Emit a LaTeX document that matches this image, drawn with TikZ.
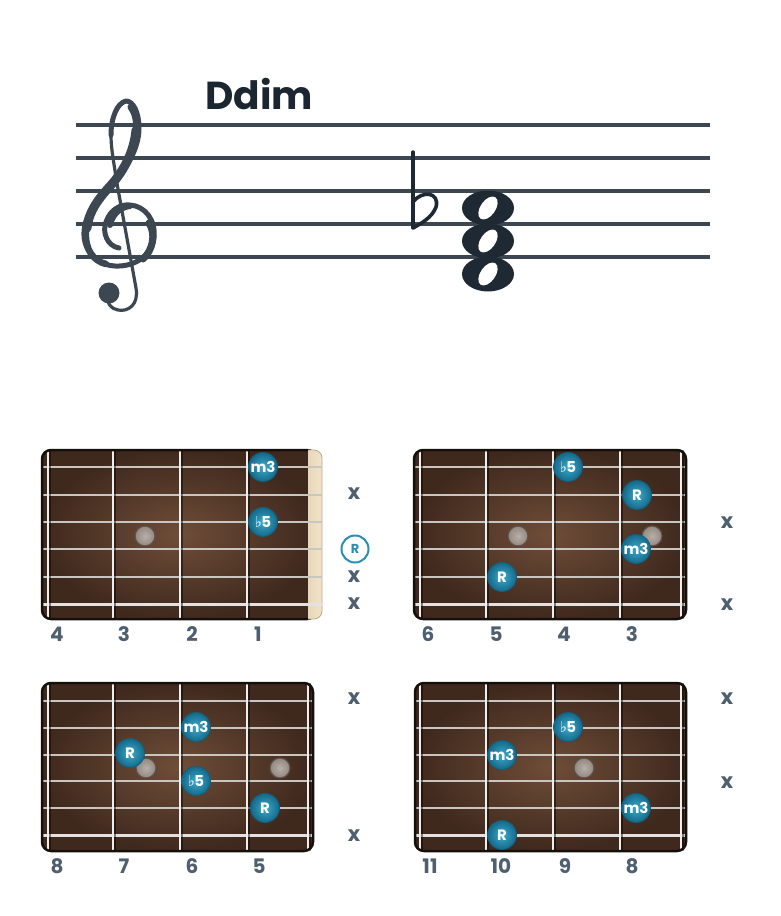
\documentclass[tikz,border=0pt]{standalone}
\usepackage{fontspec}
\newfontfamily\pop{Poppins}
\newfontfamily\dvs{DejaVu Sans}
\definecolor{staffc}{HTML}{3C4752}
\definecolor{notec}{HTML}{1E2934}
\definecolor{titlec}{HTML}{1B2631}
\definecolor{lblc}{HTML}{4E5F6F}
\definecolor{fbIn}{HTML}{6F4D38}
\definecolor{fbOut}{HTML}{3F291D}
\definecolor{fbBorder}{HTML}{15100C}
\definecolor{strc}{HTML}{C9C6C2}
\definecolor{fretc}{HTML}{EEEEEE}
\definecolor{nutA}{HTML}{F1E4CB}
\definecolor{nutB}{HTML}{DCC7A0}
\definecolor{blIn}{HTML}{3DAACB}
\definecolor{blOut}{HTML}{15698A}
\definecolor{blBd}{HTML}{125E7C}
\definecolor{gIn}{HTML}{B8AFA9}
\definecolor{gOut}{HTML}{938880}
\definecolor{gBd}{HTML}{5E5048}
\definecolor{tealc}{HTML}{2A8EB5}
\tikzset{
  board/.style={inner color=fbIn, outer color=fbOut},
  gstring/.style={draw=strc, line width=1.5pt},
  bstring/.style={draw=strc!50!white, line width=3pt},
  fretline/.style={draw=fretc, line width=2.6pt},
  fretshadow/.style={draw=black, opacity=0.45, line width=3.6pt},
  bdot/.style={circle, shade, inner color=blIn, outer color=blOut, draw=blBd, line width=0.8pt,
    minimum size=29pt, inner sep=0pt, text=white, font=\pop\bfseries\fontsize{15}{15}\selectfont},
  gdot/.style={circle, shade, inner color=gIn, outer color=gOut, draw=gBd, line width=1.2pt,
    minimum size=20pt, inner sep=0pt},
  fnum/.style={text=lblc, inner sep=0pt, font=\pop\bfseries\fontsize{20}{20}\selectfont},
  xmark/.style={text=lblc, inner sep=0pt, font=\pop\bfseries\fontsize{21}{21}\selectfont},
  rmark/.style={circle, draw=tealc, line width=2pt, minimum size=27pt, inner sep=0pt,
    text=tealc, font=\pop\bfseries\fontsize{13}{13}\selectfont},
  staffline/.style={draw=staffc, line width=3.6pt},
  clefline/.style={draw=staffc, line cap=round, line join=round},
}
\newcommand\fl{{\dvs\fontsize{15}{15}\selectfont ♭}\kern-0.5pt}
\newcommand\fboard[7]{%
  \shade[board, rounded corners=9pt] (#1,#3) rectangle (#2,#4);
  \foreach \sy in {#5} {\draw[gstring] (#1,\sy) -- (#2,\sy);}
  \draw[bstring] (#1,#6) -- (#2,#6);
  \foreach \fx in {#7} {\draw[fretshadow] (\fx+1.2,#3) -- (\fx+1.2,#4); \draw[fretline] (\fx,#3) -- (\fx,#4);}
  \draw[fbBorder, line width=2.5pt, rounded corners=9pt] (#1,#3) rectangle (#2,#4);
}
\begin{document}
\begin{tikzpicture}[x=1pt,y=-1pt]
\useasboundingbox (0,0) rectangle (780,916);
\fill[white] (0,0) rectangle (780,916);
% title
\node[anchor=base west, inner sep=0pt, text=titlec, font=\pop\bfseries\fontsize{39}{39}\selectfont] (title) at (205,109) {Ddim};
% staff
\foreach \ly in {125,158,191,224,257} {\draw[staffline] (76,\ly) -- (710,\ly);}
% treble clef
\draw[clefline, line width=5pt]
  (119,248) .. controls (107,246) and (102,232) .. (106,222)
  .. controls (110,210) and (120,204) .. (130,205)
  .. controls (145,206) and (156,220) .. (154,238)
  .. controls (152,256) and (134,267) .. (115,266)
  .. controls (96,265) and (83,250) .. (84,232)
  .. controls (85,212) and (100,197) .. (112,184)
  .. controls (125,170) and (139,150) .. (139,128)
  .. controls (139,112) and (133,101) .. (126,101)
  .. controls (117,103) and (111,118) .. (111,135);
\draw[clefline, line width=9pt]
  (87,228) .. controls (89,210) and (100,197) .. (112,184)
  .. controls (124,170) and (134,152) .. (136,130);
\draw[clefline, line width=7pt] (137,132) .. controls (137,120) and (135,112) .. (131,107);
\draw[clefline, line width=7pt] (149,223) .. controls (156,234) and (153,250) .. (143,259);
\draw[clefline, line width=6.5pt] (106,264) .. controls (93,261) and (85,249) .. (86,232);
\draw[clefline, line width=6pt] (110,225) .. controls (113,212) and (122,207) .. (130,206);
\draw[clefline, line width=3.2pt]
  (111,135) .. controls (111,150) and (114,162) .. (116,178) -- (136,288)
  .. controls (139,305) and (128,312) .. (118,310)
  .. controls (111,309) and (107,303) .. (107,297);
\fill[staffc] (109,293) circle[radius=10.5pt];
% flat
\draw[draw=notec, line width=3.4pt, line cap=round] (413,152) -- (413,228);
\draw[draw=notec, line width=3.6pt, line join=round]
  (413,202) .. controls (422,190) and (440,192) .. (436,207)
  .. controls (432,218) and (420,224) .. (413,228);
% whole notes
\foreach \ny in {208,241,274} {\fill[notec] (488,\ny) ellipse[x radius=26pt, y radius=17.5pt];}
\foreach \ny in {208,241,274} {\fill[white] (488,\ny) ellipse[x radius=13pt, y radius=7.5pt, rotate=55];}
% ===== board 1 =====
\fboard{42}{316}{450}{619}{467,495,522,549,577}{604}{48,113,180,247}
\begin{scope}
  \clip (308,440) rectangle (330,630);
  \shade[left color=nutB, right color=nutA, rounded corners=8pt] (290,450) rectangle (322,619);
  \draw[draw=nutB!85!black, line width=0.8pt, rounded corners=8pt] (290,450) rectangle (322,619);
\end{scope}
\foreach \sy in {467,495,522,549,577} {\draw[gstring] (308,\sy) -- (322,\sy);}
\draw[bstring] (308,604) -- (322,604);
\node[gdot] (g11) at (145,536) {};
\node[bdot] (d11) at (263,467) {m3};
\node[bdot] (d12) at (263,522) {\fl5};
\node[xmark] (x11) at (354,494) {x};
\node[rmark] (r11) at (355,549) {R};
\node[xmark] (x12) at (354,577) {x};
\node[xmark] (x13) at (354,604) {x};
\node[fnum] (n11) at (57,634) {4};
\node[fnum] (n12) at (124,634) {3};
\node[fnum] (n13) at (192,634) {2};
\node[fnum] (n14) at (258,634) {1};
% ===== board 2 =====
\fboard{414}{686}{450}{619}{467,495,522,549,577}{604}{420,486,553,620,681}
\node[gdot] (g21) at (518,536) {};
\node[gdot] (g22) at (652,536) {};
\node[bdot] (d21) at (568,467) {\fl5};
\node[bdot] (d22) at (637,495) {R};
\node[bdot] (d23) at (636,549) {m3};
\node[bdot] (d24) at (502,577) {R};
\node[xmark] (x21) at (727,523) {x};
\node[xmark] (x22) at (727,605) {x};
\node[fnum] (n21) at (428,634) {6};
\node[fnum] (n22) at (496,634) {5};
\node[fnum] (n23) at (564,634) {4};
\node[fnum] (n24) at (632,634) {3};
% ===== board 3 =====
\fboard{42}{313}{683}{851}{701,728,755,781,808}{835}{48,113,180,247,308}
\node[gdot] (g31) at (146,768) {};
\node[gdot] (g32) at (280,768) {};
\node[bdot] (d31) at (196,727) {m3};
\node[bdot] (d32) at (130,753) {R};
\node[bdot] (d33) at (196,781) {\fl5};
\node[bdot] (d34) at (265,808) {R};
\node[xmark] (x31) at (354,699) {x};
\node[xmark] (x32) at (354,836) {x};
\node[fnum] (n31) at (57,866) {8};
\node[fnum] (n32) at (124,866) {7};
\node[fnum] (n33) at (192,866) {6};
\node[fnum] (n34) at (259,866) {5};
% ===== board 4 =====
\fboard{415}{686}{683}{851}{701,728,755,781,808}{835}{420,486,553,620,681}
\node[gdot] (g41) at (584,768) {};
\node[bdot] (d41) at (568,727) {\fl5};
\node[bdot] (d42) at (502,755) {m3};
\node[bdot] (d43) at (636,808) {m3};
\node[bdot] (d44) at (502,835) {R};
\node[xmark] (x41) at (727,699) {x};
\node[xmark] (x42) at (727,783) {x};
\node[fnum] (n41) at (430,866) {11};
\node[fnum] (n42) at (501,866) {10};
\node[fnum] (n43) at (565,866) {9};
\node[fnum] (n44) at (632,866) {8};
\end{tikzpicture}
\end{document}
